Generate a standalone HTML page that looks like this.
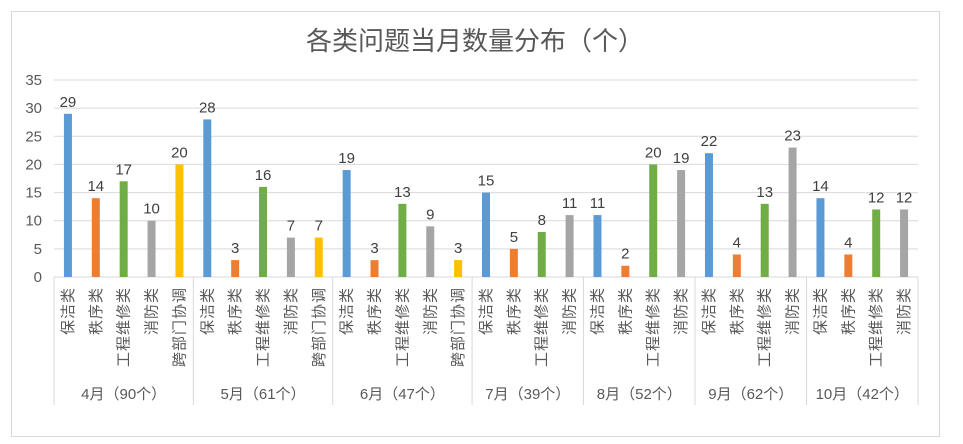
<!DOCTYPE html>
<html><head><meta charset="utf-8"><style>body{margin:0;background:#fff}svg{display:block}</style></head>
<body>
<svg id="s" width="963" height="444" xmlns="http://www.w3.org/2000/svg" font-family="'Liberation Sans','Noto Sans CJK SC',sans-serif">
<rect x="11.5" y="11.5" width="928" height="425" fill="#fff" stroke="#d9d9d9"/>
<text x="475" y="50" text-anchor="middle" font-size="26" fill="#595959">各类问题当月数量分布（个）</text>
<g id="g"></g>
</svg>
<script>
const g=document.getElementById('g');
const groups=[["4月（90个）",[29,14,17,10,20]],["5月（61个）",[28,3,16,7,7]],["6月（47个）",[19,3,13,9,3]],["7月（39个）",[15,5,8,11]],["8月（52个）",[11,2,20,19]],["9月（62个）",[22,4,13,23]],["10月（42个）",[14,4,12,12]]];
const names=["保洁类","秩序类","工程维修类","消防类","跨部门协调"];
const cols=["#5b9bd5","#ed7d31","#70ad47","#a5a5a5","#ffc000"];
const x0=54,x1=918,y0=277,u=(277-80)/35,w=(x1-x0)/31;
let h='';
for(let v=0;v<=35;v+=5){const y=y0-v*u;h+=`<line x1="${x0}" x2="${x1}" y1="${y}" y2="${y}" stroke="#d9d9d9"/>`;h+=`<text x="42" y="${y+5}" text-anchor="end" font-size="15" fill="#595959">${v}</text>`;}
let i=0;h+=`<line x1="${x0}" x2="${x0}" y1="${y0}" y2="405" stroke="#d9d9d9"/>`;
groups.forEach(([lab,vals])=>{const gs=x0+i*w;vals.forEach((v,k)=>{const cx=x0+(i+0.5)*w;const y=y0-v*u;h+=`<rect x="${cx-4}" y="${y}" width="8" height="${v*u}" fill="${cols[k]}"/>`;h+=`<text x="${cx}" y="${y-7}" text-anchor="middle" font-size="15" fill="#404040">${v}</text>`;h+=`<text transform="translate(${cx+5},287) rotate(-90)" text-anchor="end" font-size="15" letter-spacing="1" fill="#595959">${names[k]}</text>`;i++;});const ge=x0+i*w;h+=`<line x1="${ge}" x2="${ge}" y1="${y0}" y2="405" stroke="#d9d9d9"/>`;h+=`<text x="${(gs+ge)/2}" y="399" text-anchor="middle" font-size="15" fill="#595959">${lab}</text>`;});
g.innerHTML=h;
</script>
</body></html>
